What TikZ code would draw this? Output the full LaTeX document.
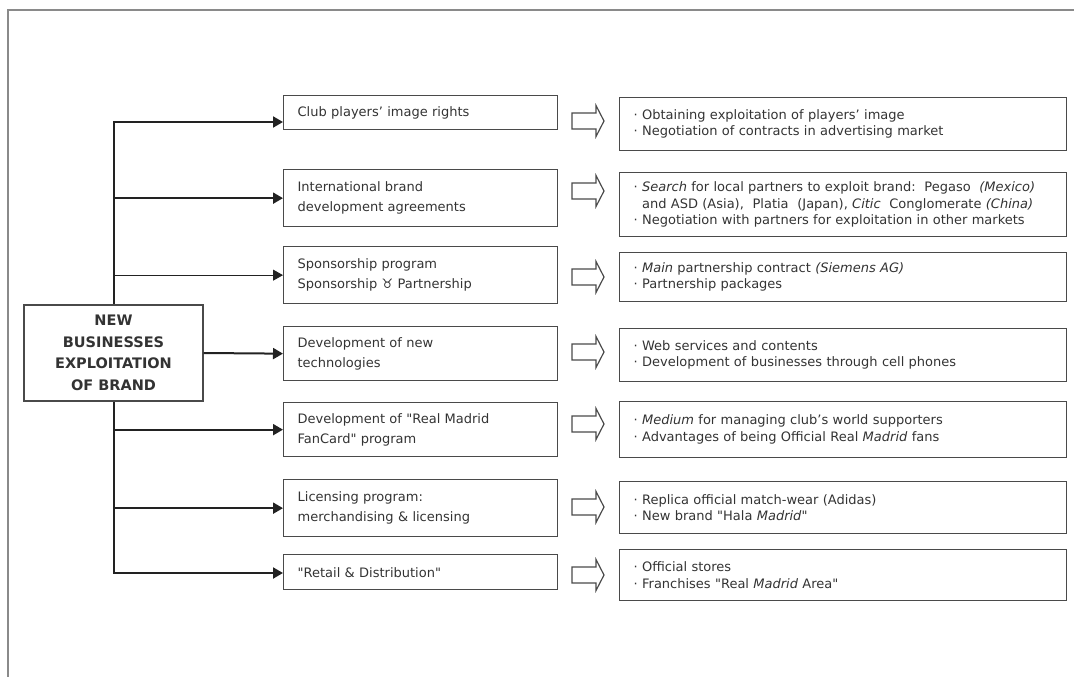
\documentclass[tikz,border=0pt]{standalone}
\usepackage{fontspec}
\setmainfont{DejaVu Sans}
\newfontfamily\symfont{DejaVu Sans}
\usetikzlibrary{arrows.meta}
\definecolor{txt}{HTML}{333333}
\definecolor{boxc}{HTML}{4A4A4A}
\definecolor{conn}{HTML}{222222}
\definecolor{framec}{HTML}{8A8A8A}
\newcommand{\bl}{·\ }
\newcommand{\bli}{\phantom{·\ }}
\newcommand{\dq}{{\symfont\char"22\relax}}
\begin{document}
\begin{tikzpicture}[x=1pt,y=-1pt,
  every node/.style={text=txt},
  mainbox/.style={draw=boxc,line width=1.4pt,fill=white,minimum width=179pt,minimum height=96pt,align=center,font=\bfseries\fontsize{14.5}{21.5}\selectfont,inner sep=0pt},
  midbox/.style={draw=boxc,line width=1.3pt,anchor=north west,inner xsep=14pt,inner ysep=0pt,text width=246pt,align=left,font=\fontsize{13}{20}\selectfont},
  outbox/.style={draw=boxc,line width=1.3pt,anchor=north west,inner xsep=14pt,inner ysep=0pt,text width=419pt,align=left,font=\fontsize{13}{16.5}\selectfont},
  branch/.style={draw=conn,line width=2pt,line join=miter,-{Triangle[length=10pt,width=11pt]}},
  thinbranch/.style={draw=conn,line width=1pt,-{Triangle[length=10pt,width=11pt]}},
  barrow/.pic={\draw[boxc,line width=1.2pt,line join=miter] (-16,-8) -- (8,-8) -- (8,-15.5) -- (16,0) -- (8,15.5) -- (8,8) -- (-16,8) -- cycle;}
]
\useasboundingbox (0,0) rectangle (1074,677);
\draw[framec,line width=1.2pt] (8,677) -- (8,10) -- (1074,10);

\node[mainbox] (main) at (113.5,353) {NEW\\BUSINESSES\\EXPLOITATION\\OF BRAND};

\node[midbox,minimum height=34pt] (m1) at (283,95) {Club players’ image rights};
\node[midbox,minimum height=57pt] (m2) at (283,169) {International brand\\development agreements};
\node[midbox,minimum height=57pt] (m3) at (283,246) {Sponsorship program\\Sponsorship {\symfont ♉} Partnership};
\node[midbox,minimum height=54pt] (m4) at (283,326) {Development of new\\technologies};
\node[midbox,minimum height=54pt] (m5) at (283,402) {Development of \dq Real Madrid\\FanCard\dq{} program};
\node[midbox,minimum height=57pt] (m6) at (283,479) {Licensing program:\\merchandising \& licensing};
\node[midbox,minimum height=35pt] (m7) at (283,554) {\dq Retail \& Distribution\dq};

\node[outbox,minimum height=53pt] (o1) at (619,97) {\bl Obtaining exploitation of players’ image\\\bl Negotiation of contracts in advertising market};
\node[outbox,minimum height=64pt] (o2) at (619,172) {\bl \textit{Search} for local partners to exploit brand:\ \ Pegaso\ \ \textit{(Mexico)}\\\bli and ASD (Asia),\ \ Platia\ \ (Japan), \textit{Citic}\ \ Conglomerate \textit{(China)}\\\bl Negotiation with partners for exploitation in other markets};
\node[outbox,minimum height=49pt] (o3) at (619,252) {\bl \textit{Main} partnership contract \textit{(Siemens AG)}\\\bl Partnership packages};
\node[outbox,minimum height=53pt] (o4) at (619,328) {\bl Web services and contents\\\bl Development of businesses through cell phones};
\node[outbox,minimum height=56pt] (o5) at (619,401) {\bl \textit{Medium} for managing club’s world supporters\\\bl Advantages of being Official Real \textit{Madrid} fans};
\node[outbox,minimum height=52pt] (o6) at (619,481) {\bl Replica official match-wear (Adidas)\\\bl New brand \dq Hala \textit{Madrid}\dq};
\node[outbox,minimum height=51pt] (o7) at (619,549) {\bl Official stores\\\bl Franchises \dq Real \textit{Madrid} Area\dq};

\coordinate (tt) at (114,122);
\coordinate (tb) at (114,573);
\draw[branch] (main.north -| tt) -- (tt) -- (tt -| m1.west);
\draw[branch] (m2.west -| tt) -- (m2.west);
\draw[thinbranch] (m3.west -| tt) -- (m3.west);
\draw[branch] (main.east) -- (m4.west);
\draw[branch] (m5.west -| tt) -- (m5.west);
\draw[branch] (m6.west -| tt) -- (m6.west);
\draw[branch] (main.south -| tb) -- (tb) -- (tb -| m7.west);

\pic at (588,121) {barrow};
\pic at (588,191) {barrow};
\pic at (588,277) {barrow};
\pic at (588,352) {barrow};
\pic at (588,424) {barrow};
\pic at (588,507) {barrow};
\pic at (588,575) {barrow};
\end{tikzpicture}
\end{document}
